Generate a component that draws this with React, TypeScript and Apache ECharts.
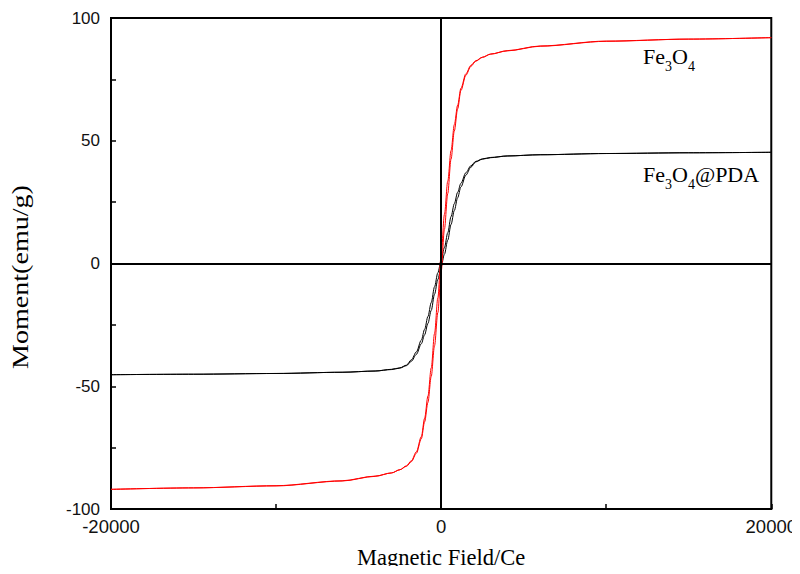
import React, { useEffect, useRef } from "react";
import * as echarts from "echarts";

// Field values (Oe) for the descending branch (from +20000 to -20000)
const fieldDesc = [20000, 15000, 10000, 6000, 4000, 3000, 2500, 2100, 1800, 1500, 1200, 1000, 800, 600, 400, 200, 0, -200, -400, -600, -800, -1000, -1200, -1500, -1800, -2100, -2500, -3000, -4000, -6000, -10000, -15000, -20000];
// Field values (Oe) for the ascending branch (from -20000 to +20000)
const fieldAsc = [-20000, -15000, -10000, -6000, -4000, -3000, -2500, -2100, -1800, -1500, -1200, -1000, -800, -600, -400, -200, 0, 200, 400, 600, 800, 1000, 1200, 1500, 1800, 2100, 2500, 3000, 4000, 6000, 10000, 15000, 20000];

// Fe3O4 moment (emu/g)
const fe3o4Desc = [92, 91.4, 90.6, 88.6, 86.7, 85.3, 84, 82.6, 80.7, 77.3, 71.4, 64.5, 56.6, 46, 33.5, 20, 3.4, -14, -28.5, -42.5, -54, -63, -70.5, -76.7, -80.3, -82.4, -84, -85.3, -86.6, -88.5, -90.5, -91.4, -92];
const fe3o4Asc = [-92, -91.4, -90.6, -88.6, -86.7, -85.3, -84, -82.6, -80.7, -77.3, -71.4, -64.5, -56.6, -46, -33.5, -20, -3.4, 14, 28.5, 42.5, 54, 63, 70.5, 76.7, 80.3, 82.4, 84, 85.3, 86.6, 88.5, 90.5, 91.4, 92];

// Fe3O4@PDA moment (emu/g)
const pdaDesc = [45.3, 45.1, 44.8, 44.3, 43.8, 43.2, 42.6, 41.6, 39.8, 37, 32.7, 29, 24.4, 19.1, 12.5, 6.5, 1.3, -3.8, -9.5, -15.9, -21.6, -26.8, -31.2, -36, -39.2, -41.4, -42.5, -43.1, -43.8, -44.3, -44.8, -45.1, -45.3];
const pdaAsc = [-45.3, -45.1, -44.8, -44.3, -43.8, -43.2, -42.6, -41.6, -39.8, -37, -32.7, -29, -24.4, -19.1, -12.5, -6.5, -1.3, 3.8, 9.5, 15.9, 21.6, 26.8, 31.2, 36, 39.2, 41.4, 42.5, 43.1, 43.8, 44.3, 44.8, 45.1, 45.3];

const xLabels = [-20000, 0, 20000];
const yLabels = [-100, -50, 0, 50, 100];

const pair = (xs: number[], ys: number[]) => xs.map((x, i) => [x, ys[i]]);

export default function App() {
  const ref = useRef<HTMLDivElement>(null);
  useEffect(() => {
    if (!ref.current) return;
    const chart = echarts.init(ref.current, undefined, { renderer: "svg" });
    const sans = "'Liberation Sans', Arial, sans-serif";
    const serif = "'Liberation Serif', 'Times New Roman', serif";
    const lineSeries = (name: string, data: number[][], color: string) => ({
      name,
      type: "line",
      data,
      showSymbol: false,
      smooth: 0.3,
      smoothMonotone: "x",
      lineStyle: { color, width: 1 },
      itemStyle: { color },
      silent: true,
      z: 3,
    });
    const rich = {
      n: { fontFamily: serif, fontSize: 22, color: "#000", lineHeight: 28, verticalAlign: "top" },
      s: { fontFamily: serif, fontSize: 14, color: "#000", lineHeight: 28, verticalAlign: "bottom", padding: [13, 0, 0, 0] },
    };
    chart.setOption({
      animation: false,
      backgroundColor: "#fff",
      grid: {
        left: 111,
        right: 27,
        top: 18,
        bottom: 63,
        show: true,
        borderColor: "#000",
        borderWidth: 2,
        backgroundColor: "transparent",
      },
      xAxis: {
        type: "value",
        min: -20000,
        max: 20000,
        interval: 10000,
        name: "Magnetic Field/Ce",
        nameLocation: "middle",
        nameGap: 37,
        nameTextStyle: { fontFamily: serif, fontSize: 22.5, color: "#000" },
        axisLine: { show: true, onZero: false, lineStyle: { color: "#000", width: 2 } },
        axisTick: { show: true, inside: true, length: 5, lineStyle: { color: "#000", width: 1.5 } },
        splitLine: { show: false },
        axisLabel: {
          fontFamily: sans,
          fontSize: 18.5,
          color: "#111",
          margin: 8,
          formatter: (v: number) => (xLabels.includes(v) ? String(v) : ""),
        },
      },
      yAxis: {
        type: "value",
        min: -100,
        max: 100,
        interval: 25,
        axisLine: { show: true, onZero: false, lineStyle: { color: "#000", width: 2 } },
        axisTick: { show: true, inside: true, length: 5, lineStyle: { color: "#000", width: 1.5 } },
        splitLine: { show: false },
        axisLabel: {
          fontFamily: sans,
          fontSize: 17,
          color: "#111",
          margin: 11,
          formatter: (v: number) => (yLabels.includes(v) ? String(v) : ""),
        },
      },
      series: [
        {
          ...lineSeries("Fe3O4@PDA desc", pair(fieldDesc, pdaDesc), "#000"),
          markLine: {
            silent: true,
            symbol: "none",
            label: { show: false },
            lineStyle: { color: "#000", width: 2, type: "solid" },
            data: [{ xAxis: 0 }, { yAxis: 0 }],
          },
        },
        lineSeries("Fe3O4@PDA asc", pair(fieldAsc, pdaAsc), "#000"),
        lineSeries("Fe3O4 desc", pair(fieldDesc, fe3o4Desc), "#ff0000"),
        lineSeries("Fe3O4 asc", pair(fieldAsc, fe3o4Asc), "#ff0000"),
      ],
      graphic: [
        {
          type: "text",
          x: 20,
          y: 277,
          rotation: Math.PI / 2,
          scaleX: 1.22,
          style: {
            text: "Moment(emu/g)",
            fontFamily: serif,
            fontSize: 23,
            fill: "#000",
            align: "center",
            verticalAlign: "middle",
          },
        },
        {
          type: "text",
          left: 643,
          top: 45,
          style: { text: "{n|Fe}{s|3}{n|O}{s|4}", rich },
        },
        {
          type: "text",
          left: 643,
          top: 163,
          style: { text: "{n|Fe}{s|3}{n|O}{s|4}{n|@PDA}", rich },
        },
      ],
    });
    return () => chart.dispose();
  }, []);
  return <div ref={ref} style={{ width: 800, height: 574, margin: -8 }} />;
}
